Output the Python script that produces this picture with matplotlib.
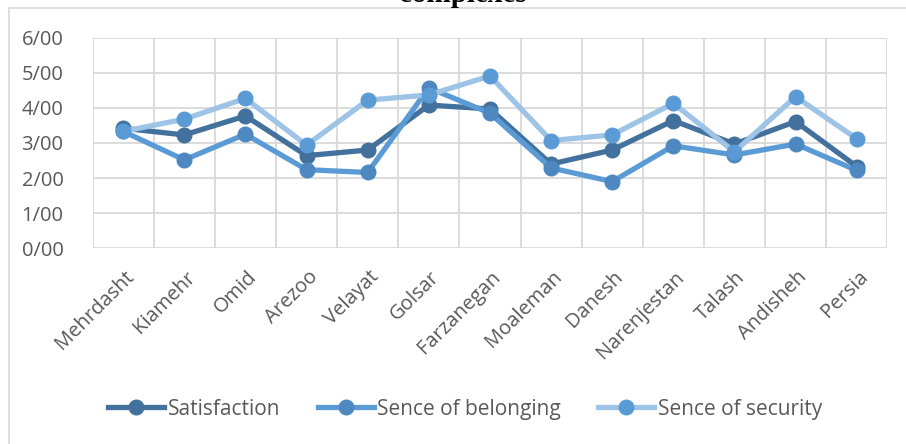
import matplotlib
matplotlib.use("Agg")
import matplotlib.pyplot as plt
import matplotlib.patches as mpatches
import numpy as np

categories = ["Mehrdasht", "Kiamehr", "Omid", "Arezoo", "Velayat", "Golsar", "Farzanegan",
              "Moaleman", "Danesh", "Narenjestan", "Talash", "Andisheh", "Persia"]
satisfaction = [3.42, 3.23, 3.77, 2.64, 2.80, 4.08, 3.97, 2.40, 2.80, 3.64, 2.97, 3.61, 2.33]
belonging = [3.33, 2.52, 3.25, 2.24, 2.16, 4.57, 3.85, 2.29, 1.90, 2.92, 2.66, 2.97, 2.22]
security = [3.33, 3.68, 4.27, 2.94, 4.22, 4.37, 4.91, 3.07, 3.23, 4.13, 2.75, 4.32, 3.12]
series_names = ["Satisfaction", "Sence of belonging", "Sence of security"]
y_ticks = [0, 1, 2, 3, 4, 5, 6]
title_text = "complexes"

W, H = 906, 444
fig = plt.figure(figsize=(W / 100, H / 100), dpi=100)
plt.rcParams['font.family'] = ['Open Sans', 'DejaVu Sans']

# chart border
fig.patches.append(mpatches.Rectangle((9 / W, -0.05), 1.1, 1 - 8 / H + 0.05, transform=fig.transFigure,
                                      fill=False, edgecolor="#d9d9d9", linewidth=1.2, clip_on=False))

left, right, top, bottom = 92.6, 887.3, 37.7, 248.3
ax = fig.add_axes([left / W, (H - bottom) / H, (right - left) / W, (bottom - top) / H])

x = np.arange(len(categories))
styles = [
    (satisfaction, "#41719C", "#41719C"),
    (belonging, "#5B9BD5", "#4E88C0"),
    (security, "#9DC3E6", "#5B9BD5"),
]
for (vals, lc, mc), name in zip(styles, series_names):
    ax.plot(x, vals, color=lc, linewidth=3.8, marker="o", markersize=10.5,
            markerfacecolor=mc, markeredgecolor=mc, label=name, solid_joinstyle="round", zorder=3)

ax.set_xlim(-0.5, len(categories) - 0.5)
ax.set_ylim(0, 6)
ax.set_yticks(y_ticks)
ax.set_yticklabels([f"{v:.2f}".replace(".", "/") for v in y_ticks])
ax.set_xticks(x)
ax.set_xticklabels([])
ax.set_xticks(np.arange(-0.5, len(categories)), minor=True)
ax.tick_params(axis="both", which="both", length=0)
ax.tick_params(axis="y", pad=21, labelsize=14.5, labelcolor="#595959")
ax.grid(axis="y", which="major", color="#d9d9d9", linewidth=1.3)
ax.grid(axis="x", which="minor", color="#d9d9d9", linewidth=1.3)
ax.grid(axis="x", which="major", visible=False)
for s in ax.spines.values():
    s.set_visible(False)
ax.set_axisbelow(True)

for i, c in enumerate(categories):
    ax.annotate(c, xy=(i, 0), xycoords="data", xytext=(8, -26), textcoords="offset pixels",
                rotation=45, rotation_mode="anchor", ha="right", va="center",
                fontsize=14.5, color="#595959", annotation_clip=False)

leg = fig.legend(loc="center", bbox_to_anchor=(465 / W, 1 - 409 / H), ncol=3, frameon=False,
                 fontsize=15, handlelength=2.7, handletextpad=0.15, columnspacing=1.8,
                 labelcolor="#595959")

fig.text(463 / W, 1 - 2 / H, title_text, ha="center", va="baseline", fontsize=21,
         fontweight="bold", family="Liberation Serif", color="#000000")

fig.savefig("out.png", dpi=100)
